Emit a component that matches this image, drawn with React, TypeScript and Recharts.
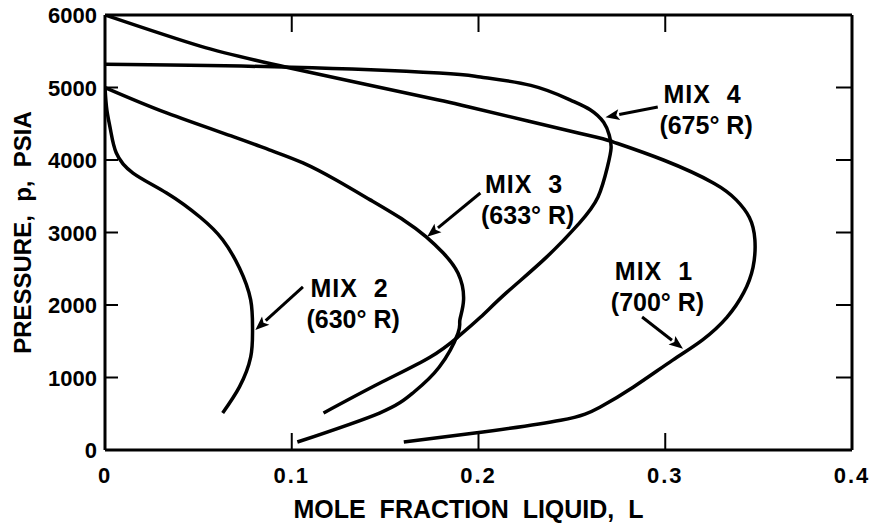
import React from 'react';
import { LineChart, Line, XAxis, YAxis, ReferenceLine, ReferenceDot } from 'recharts';

const FONT = '"Liberation Sans", Arial, Helvetica, sans-serif';
const INK = '#000';

const X_TICKS = [0, 0.1, 0.2, 0.3, 0.4];
const Y_TICKS = [0, 1000, 2000, 3000, 4000, 5000, 6000];
const TOP_TICKS = [0.1, 0.2, 0.3];
const RIGHT_TICKS = [1000, 2000, 3000, 4000, 5000];

// mole fraction liquid (L) and pressure (psia), traced along each envelope
const MIX1_L = [0, 0.051, 0.099, 0.178, 0.195, 0.254, 0.272, 0.299, 0.326, 0.338, 0.345, 0.348, 0.347, 0.342, 0.333, 0.32, 0.304, 0.283, 0.265, 0.244, 0.197, 0.16];
const MIX1_P = [6000, 5570, 5270, 4830, 4730, 4370, 4250, 4000, 3680, 3450, 3210, 2900, 2520, 2170, 1830, 1520, 1240, 870, 590, 410, 230, 110];

const MIX2_L = [0, 0.001, 0.003, 0.006, 0.015, 0.033, 0.051, 0.063, 0.072, 0.078, 0.079, 0.078, 0.072, 0.063];
const MIX2_P = [5000, 4690, 4410, 4100, 3820, 3545, 3210, 2900, 2510, 2070, 1655, 1280, 870, 510];

const MIX3_L = [0, 0.033, 0.069, 0.088, 0.106, 0.124, 0.142, 0.16, 0.172, 0.181, 0.189, 0.192, 0.19, 0.189, 0.179, 0.165, 0.147, 0.103];
const MIX3_P = [5000, 4650, 4320, 4140, 3960, 3720, 3450, 3170, 2940, 2720, 2440, 2070, 1790, 1610, 1145, 790, 510, 110];

const MIX4_L = [0, 0.1, 0.179, 0.201, 0.228, 0.249, 0.26, 0.267, 0.27, 0.271, 0.269, 0.264, 0.254, 0.236, 0.215, 0.201, 0.189, 0.174, 0.147, 0.117];
const MIX4_P = [5320, 5280, 5200, 5145, 5030, 4830, 4690, 4520, 4345, 4165, 3900, 3490, 3130, 2650, 2170, 1830, 1560, 1280, 920, 510];

const SERIES = [
  { name: 'MIX 1', l: MIX1_L, p: MIX1_P },
  { name: 'MIX 2', l: MIX2_L, p: MIX2_P },
  { name: 'MIX 3', l: MIX3_L, p: MIX3_P },
  { name: 'MIX 4', l: MIX4_L, p: MIX4_P },
];

// callouts: text anchor and arrow tail/head, in chart units
const CALLOUTS = [
  { title: 'MIX  4', temp: '(675° R)', at: [0.299, 4790], from: [0.296, 4730], to: [0.268, 4590] },
  { title: 'MIX  3', temp: '(633° R)', at: [0.2035, 3545], from: [0.201, 3545], to: [0.1725, 2940] },
  { title: 'MIX  2', temp: '(630° R)', at: [0.11, 2110], from: [0.106, 2250], to: [0.0805, 1655] },
  { title: 'MIX  1', temp: '(700° R)', at: [0.273, 2345], from: [0.2876, 1835], to: [0.3095, 1395] },
];

const rows = (l: number[], p: number[]) => l.map((v, i) => ({ l: v, p: p[i] }));

function Arrow(props: any) {
  const { x1, y1, x2, y2 } = props;
  const dx = x2 - x1;
  const dy = y2 - y1;
  const len = Math.sqrt(dx * dx + dy * dy) || 1;
  const ux = dx / len;
  const uy = dy / len;
  const head = 14;
  const half = 5.5;
  const bx = x2 - ux * head;
  const by = y2 - uy * head;
  return (
    <g>
      <line x1={x1} y1={y1} x2={bx} y2={by} stroke={INK} strokeWidth={3} />
      <polygon
        points={`${x2},${y2} ${bx - uy * half},${by + ux * half} ${bx + ux * 3},${by + uy * 3} ${bx + uy * half},${by - ux * half}`}
        fill={INK}
      />
    </g>
  );
}

function calloutText(title: string, temp: string) {
  return (props: any) => {
    const { cx, cy } = props;
    const style = { whiteSpace: 'pre' as const };
    return (
      <g fontFamily={FONT} fontWeight={700} fontSize={25} fill={INK}>
        <text x={cx} y={cy} style={style} letterSpacing={1}>
          {title}
        </text>
        <text x={cx - 4} y={cy + 31} style={style}>
          {temp}
        </text>
      </g>
    );
  };
}

// inward ticks: tickSize/tickMargin are 0 so x,y land on the axis line
function BottomTick(props: any) {
  const { x, y, payload } = props;
  const v = payload.value as number;
  return (
    <g>
      <line x1={x} y1={y} x2={x} y2={y - 17} stroke={INK} strokeWidth={2} />
      <text
        x={x}
        y={y + 33}
        textAnchor="middle"
        fontFamily={FONT}
        fontWeight={700}
        fontSize={22}
        fill={INK}
        letterSpacing={2}
      >
        {v === 0 ? '0' : v.toFixed(1)}
      </text>
    </g>
  );
}

function LeftTick(props: any) {
  const { x, y, payload } = props;
  return (
    <g>
      <line x1={x} y1={y} x2={x + 13} y2={y} stroke={INK} strokeWidth={2} />
      <text
        x={x - 8}
        y={y + 8}
        textAnchor="end"
        fontFamily={FONT}
        fontWeight={700}
        fontSize={22}
        fill={INK}
      >
        {payload.value}
      </text>
    </g>
  );
}

function TopTick(props: any) {
  const { x, y } = props;
  return <line x1={x} y1={y} x2={x} y2={y + 17} stroke={INK} strokeWidth={2} />;
}

function RightTick(props: any) {
  const { x, y } = props;
  return <line x1={x} y1={y} x2={x - 16} y2={y} stroke={INK} strokeWidth={2} />;
}

const frame = { stroke: INK, strokeWidth: 3 };

export default function App() {
  return (
    <div style={{ position: 'absolute', left: 0, top: 0, width: 874, height: 525, background: '#fff' }}>
      <LineChart width={874} height={525} margin={{ top: 14, right: 21, left: 0, bottom: 0 }}>
        <XAxis
          dataKey="l"
          type="number"
          domain={[0, 0.4]}
          allowDataOverflow
          ticks={X_TICKS}
          tick={<BottomTick />}
          height={75}
          tickSize={0}
          tickMargin={0}
          tickLine={false}
          axisLine={frame}
          interval={0}
          label={{
            content: (p: any) => {
              const vb = p.viewBox;
              return (
                <text
                  x={vb.x + vb.width / 2 - 10}
                  y={vb.y + 68}
                  textAnchor="middle"
                  fontFamily={FONT}
                  fontWeight={700}
                  fontSize={25}
                  fill={INK}
                  style={{ whiteSpace: 'pre' }}
                >
                  {'MOLE  FRACTION  LIQUID,  L'}
                </text>
              );
            },
          }}
        />
        <XAxis
          xAxisId="top"
          orientation="top"
          dataKey="l"
          type="number"
          domain={[0, 0.4]}
          allowDataOverflow
          ticks={TOP_TICKS}
          tick={<TopTick />}
          height={1}
          tickSize={0}
          tickMargin={0}
          tickLine={false}
          axisLine={frame}
          interval={0}
        />
        <YAxis
          type="number"
          domain={[0, 6000]}
          allowDataOverflow
          ticks={Y_TICKS}
          tick={<LeftTick />}
          width={105}
          tickSize={0}
          tickMargin={0}
          tickLine={false}
          axisLine={frame}
          interval={0}
          label={{
            content: (p: any) => {
              const vb = p.viewBox;
              const cx = vb.x + 22;
              const cy = vb.y + vb.height / 2;
              return (
                <text
                  x={cx}
                  y={cy}
                  transform={`rotate(-90 ${cx} ${cy})`}
                  textAnchor="middle"
                  dominantBaseline="central"
                  fontFamily={FONT}
                  fontWeight={700}
                  fontSize={24}
                  fill={INK}
                  style={{ whiteSpace: 'pre' }}
                >
                  {'PRESSURE,  p,  PSIA'}
                </text>
              );
            },
          }}
        />
        <YAxis
          yAxisId="right"
          orientation="right"
          type="number"
          domain={[0, 6000]}
          allowDataOverflow
          ticks={RIGHT_TICKS}
          tick={<RightTick />}
          width={1}
          tickSize={0}
          tickMargin={0}
          tickLine={false}
          axisLine={frame}
          interval={0}
        />
        {SERIES.map((s) => (
          <Line
            key={s.name}
            name={s.name}
            data={rows(s.l, s.p)}
            dataKey="p"
            type="natural"
            stroke={INK}
            strokeWidth={3.5}
            dot={false}
            activeDot={false}
            isAnimationActive={false}
          />
        ))}
        {CALLOUTS.map((c) => (
          <ReferenceLine
            key={`arrow-${c.title}`}
            segment={[
              { x: c.from[0], y: c.from[1] },
              { x: c.to[0], y: c.to[1] },
            ]}
            shape={(p: any) => <Arrow {...p} />}
          />
        ))}
        {CALLOUTS.map((c) => (
          <ReferenceDot
            key={`text-${c.title}`}
            x={c.at[0]}
            y={c.at[1]}
            r={0}
            shape={calloutText(c.title, c.temp)}
          />
        ))}
      </LineChart>
    </div>
  );
}
